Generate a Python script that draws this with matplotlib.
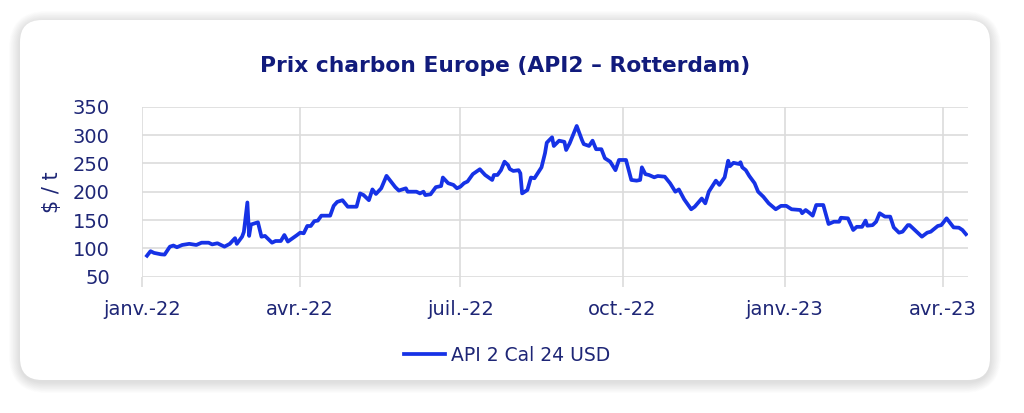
import matplotlib
matplotlib.use("Agg")
import matplotlib.pyplot as plt
from matplotlib.patches import FancyBboxPatch
import pandas as pd

# ---- data -------------------------------------------------------------
dates = [
    "2022-01-04", "2022-01-06", "2022-01-08", "2022-01-12", "2022-01-14", "2022-01-17",
    "2022-01-19", "2022-01-21", "2022-01-24", "2022-01-28", "2022-02-01", "2022-02-04",
    "2022-02-08", "2022-02-10", "2022-02-13", "2022-02-17", "2022-02-20", "2022-02-23",
    "2022-02-24", "2022-02-27", "2022-02-28", "2022-03-02", "2022-03-03", "2022-03-04",
    "2022-03-08", "2022-03-10", "2022-03-12", "2022-03-16", "2022-03-18", "2022-03-21",
    "2022-03-23", "2022-03-25", "2022-03-30", "2022-04-01", "2022-04-03", "2022-04-05",
    "2022-04-07", "2022-04-09", "2022-04-11", "2022-04-13", "2022-04-18", "2022-04-20",
    "2022-04-22", "2022-04-25", "2022-04-28", "2022-05-03", "2022-05-05", "2022-05-07",
    "2022-05-10", "2022-05-12", "2022-05-14", "2022-05-17", "2022-05-20", "2022-05-24",
    "2022-05-25", "2022-05-27", "2022-05-31", "2022-06-01", "2022-06-06", "2022-06-08",
    "2022-06-10", "2022-06-11", "2022-06-14", "2022-06-17", "2022-06-20", "2022-06-21",
    "2022-06-24", "2022-06-27", "2022-06-29", "2022-07-01", "2022-07-03", "2022-07-05",
    "2022-07-08", "2022-07-12", "2022-07-15", "2022-07-19", "2022-07-20", "2022-07-22",
    "2022-07-24", "2022-07-26", "2022-07-28", "2022-07-29", "2022-07-31", "2022-08-03",
    "2022-08-04", "2022-08-05", "2022-08-08", "2022-08-10", "2022-08-12", "2022-08-16",
    "2022-08-18", "2022-08-19", "2022-08-22", "2022-08-23", "2022-08-26", "2022-08-29",
    "2022-08-30", "2022-09-01", "2022-09-05", "2022-09-08", "2022-09-09", "2022-09-12",
    "2022-09-14", "2022-09-16", "2022-09-19", "2022-09-21", "2022-09-24", "2022-09-27",
    "2022-09-29", "2022-10-03", "2022-10-06", "2022-10-09", "2022-10-11", "2022-10-12",
    "2022-10-14", "2022-10-16", "2022-10-19", "2022-10-21", "2022-10-25", "2022-10-28",
    "2022-10-31", "2022-11-02", "2022-11-05", "2022-11-09", "2022-11-11", "2022-11-15",
    "2022-11-17", "2022-11-19", "2022-11-23", "2022-11-25", "2022-11-28", "2022-11-30",
    "2022-12-01", "2022-12-03", "2022-12-06", "2022-12-07", "2022-12-08", "2022-12-10",
    "2022-12-12", "2022-12-15", "2022-12-17", "2022-12-20", "2022-12-23", "2022-12-27",
    "2022-12-30", "2023-01-02", "2023-01-05", "2023-01-10", "2023-01-11", "2023-01-13",
    "2023-01-15", "2023-01-17", "2023-01-19", "2023-01-23", "2023-01-26", "2023-01-29",
    "2023-02-01", "2023-02-02", "2023-02-06", "2023-02-09", "2023-02-11", "2023-02-14",
    "2023-02-16", "2023-02-17", "2023-02-20", "2023-02-22", "2023-02-24", "2023-02-27",
    "2023-03-02", "2023-03-04", "2023-03-07", "2023-03-09", "2023-03-12", "2023-03-13",
    "2023-03-17", "2023-03-20", "2023-03-23", "2023-03-25", "2023-03-29", "2023-03-31",
    "2023-04-03", "2023-04-07", "2023-04-10", "2023-04-12", "2023-04-14",
]
api2_cal24_usd = [
    87, 95, 92, 89.5, 89, 103,
    105, 102, 106, 108, 106, 110,
    110, 107, 109, 103, 108, 118,
    108, 120.6, 129, 181, 122, 142,
    146, 120.6, 122, 110, 113, 113,
    123.6, 112, 123, 127.7, 126.6, 139.5,
    139.5, 148, 149, 157.7, 157.7, 175,
    182, 185, 173.5, 173.5, 197, 194,
    185, 204, 196, 206, 228, 212,
    208, 202, 206, 200, 200, 197,
    200, 194, 195.4, 208, 210, 225,
    215, 212, 206, 209, 215, 218,
    231, 239.6, 229.5, 220.7, 229.5, 229.5,
    238, 253, 247, 240, 236.6, 238,
    232.5, 197, 203, 225, 223.7, 243,
    268, 286.5, 296, 280.7, 290, 288,
    273.6, 285.4, 316, 291, 284, 280.7,
    290, 275, 275, 259, 253, 238,
    256, 256, 220.7, 219.5, 220.7, 243,
    231, 229.5, 225.4, 227.7, 226.5, 215,
    200, 204, 186.6, 169, 173.5, 188,
    179.5, 200, 219.5, 212, 225.4, 254.7,
    245, 251, 249, 252, 243, 238,
    227.7, 215, 200, 191, 179.5, 169,
    175, 175, 169, 167.7, 162, 167.7,
    163, 157.7, 176.5, 176.5, 143, 147,
    147, 154, 153, 132.4, 138, 138,
    149, 140, 141, 147, 162, 156,
    156, 137, 127.7, 129.4, 141, 141,
    129.4, 120.6, 127.7, 129.4, 139.5, 141,
    153, 137, 136.5, 132.4, 125,
]
tick_dates = ["2022-01-01", "2022-04-01", "2022-07-01", "2022-10-01", "2023-01-01", "2023-04-01"]
tick_labels = ["janv.-22", "avr.-22", "juil.-22", "oct.-22", "janv.-23", "avr.-23"]
y_ticks = [50, 100, 150, 200, 250, 300, 350]
title = "Prix charbon Europe (API2 \u2013 Rotterdam)"
series_name = "API 2 Cal 24 USD"
y_label = "$ / t"

# ---- style ------------------------------------------------------------
plt.rcParams["font.family"] = ["DejaVu Sans"]
TEXT = "#1e2676"
TITLE = "#111b7c"
LINE = "#1632e6"
GRID = "#dcdcdc"

W, H = 1024, 413
fig = plt.figure(figsize=(W / 100, H / 100), dpi=100)
fig.patch.set_facecolor("white")

# card shadow + card
cx0, cy0, cx1, cy1 = 20, 20, 990, 380
rad = 22
for i in range(16, 0, -1):
    sh = FancyBboxPatch(((cx0 - i * 0.7) / W, 1 - (cy1 + 2 + i * 0.7) / H),
                        (cx1 - cx0 + i * 1.4) / W, (cy1 - cy0 + i * 1.4) / H,
                        boxstyle=f"round,pad=0,rounding_size={(rad + i) / W}",
                        transform=fig.transFigure, facecolor="#000000",
                        alpha=0.007, edgecolor="none", zorder=0,
                        mutation_aspect=W / H)
    fig.patches.append(sh)
card = FancyBboxPatch((cx0 / W, 1 - cy1 / H), (cx1 - cx0) / W, (cy1 - cy0) / H,
                      boxstyle=f"round,pad=0,rounding_size={rad / W}",
                      transform=fig.transFigure, facecolor="white",
                      edgecolor="none", zorder=1, mutation_aspect=W / H)
fig.patches.append(card)

ax_l, ax_r, ax_t, ax_b = 141.7, 967.7, 106.7, 276.7
ax = fig.add_axes([ax_l / W, 1 - ax_b / H, (ax_r - ax_l) / W, (ax_b - ax_t) / H])
ax.set_facecolor("none")
ax.set_zorder(2)

x = pd.to_datetime(dates)
line, = ax.plot(x, api2_cal24_usd, color=LINE, lw=2.7, solid_joinstyle="round",
                label=series_name, zorder=3)

ax.set_ylim(50, 350)
ax.set_xlim(pd.Timestamp("2022-01-01"), pd.Timestamp("2023-04-15"))
ax.set_yticks(y_ticks)
ax.set_xticks(pd.to_datetime(tick_dates))
ax.set_xticklabels(tick_labels)

ax.grid(True, color=GRID, lw=1.2)
for s in ax.spines.values():
    s.set_visible(False)
ax.tick_params(axis="y", length=0, pad=23, labelsize=14, labelcolor=TEXT)
ax.tick_params(axis="x", length=7, width=1.2, color=GRID, pad=10,
               labelsize=14, labelcolor=TEXT)

ax.set_ylabel(y_label, fontsize=15, color=TEXT)
ax.yaxis.set_label_coords((62 - ax_l) / (ax_r - ax_l), 0.5)

fig.text(505 / W, 1 - 66 / H, title, ha="center", va="center",
         fontsize=15.7, fontweight="bold", color=TITLE, zorder=5)

leg = fig.legend(handles=[line], loc="center", bbox_to_anchor=(507 / W, 1 - 355.5 / H),
                 frameon=False, fontsize=13.5, handlelength=2.2, handletextpad=0.3,
                 labelcolor=TEXT)

fig.savefig("out.png", dpi=100, facecolor="white")
